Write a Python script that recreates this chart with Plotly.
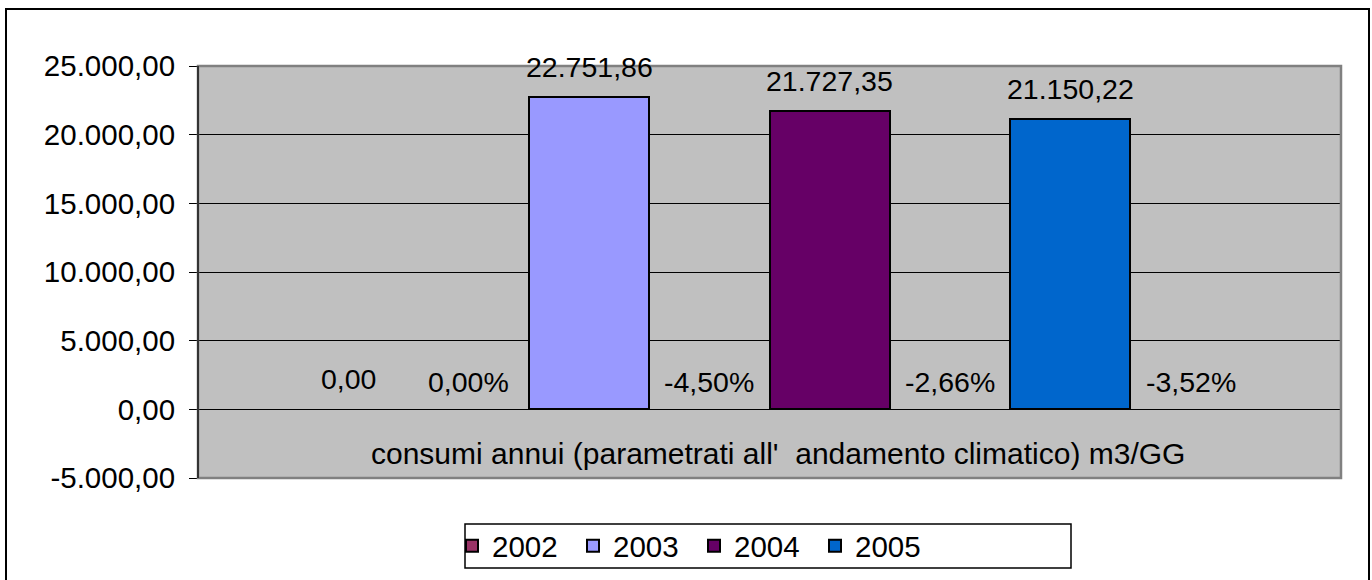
import plotly.graph_objects as go

# ---- data ----
years = ["2002", "2003", "2004", "2005"]
values = [0.0, 22751.86, 21727.35, 21150.22]
pct_change = [0.00, -4.50, -2.66, -3.52]
colors = ["#993366", "#9999FF", "#660066", "#0066CC"]
category = "consumi annui (parametrati all'  andamento climatico) m3/GG"
y_ticks = [-5000, 0, 5000, 10000, 15000, 20000, 25000]

# ---- layout geometry (pixels) ----
W, H = 1372, 580
ML, MR, MT, MB = 198, 31, 66, 102
PW, PH = W - ML - MR, H - MT - MB


def px_x(p):
    return (p - ML) / PW


def px_y(p):
    return (H - MB - p) / PH


FONT = "Liberation Sans, Arial, sans-serif"


def it(v, pct=False):
    s = f"{v:,.2f}".replace(",", "X").replace(".", ",").replace("X", ".")
    return s + ("%" if pct else "")


fig = go.Figure()
for i, (yr, v, c) in enumerate(zip(years, values, colors)):
    fig.add_trace(go.Bar(
        x=[2 * i], y=[v if v != 0 else None], name=yr, width=1,
        marker=dict(color=c, line=dict(color="black", width=2)),
        hoverinfo="skip",
    ))

annotations = []
for i, (v, p) in enumerate(zip(values, pct_change)):
    annotations.append(dict(x=2 * i, y=v, xref="x", yref="y", text=it(v),
                            showarrow=False, yanchor="middle", yshift=30,
                            font=dict(family=FONT, size=28.5, color="black")))
    annotations.append(dict(x=2 * i + 1, y=0, xref="x", yref="y", text=it(p, True),
                            showarrow=False, yanchor="middle", yshift=27,
                            font=dict(family=FONT, size=28.5, color="black")))
annotations.append(dict(x=3.5, y=0, xref="x", yref="y", text=category,
                        showarrow=False, yanchor="middle", yshift=-44, xshift=8,
                        font=dict(family=FONT, size=30, color="black")))

shapes = [
    # plot area border
    dict(type="rect", xref="paper", yref="paper", x0=0, x1=1, y0=0, y1=1,
         line=dict(color="#808080", width=2.5), layer="above"),
    # left axis line
    dict(type="line", xref="paper", yref="paper", x0=0, x1=0, y0=0, y1=1,
         line=dict(color="#333333", width=2), layer="above"),
    # chart outer border
    dict(type="rect", xref="paper", yref="paper",
         x0=px_x(6), x1=px_x(1369), y0=px_y(600), y1=px_y(9),
         line=dict(color="black", width=2)),
    # legend box
    dict(type="rect", xref="paper", yref="paper",
         x0=px_x(465), x1=px_x(1071), y0=px_y(568), y1=px_y(524),
         line=dict(color="black", width=1.5), fillcolor="white", layer="below"),
]

fig.update_layout(
    width=W, height=H,
    margin=dict(l=ML, r=MR, t=MT, b=MB, autoexpand=False),
    paper_bgcolor="white", plot_bgcolor="#C0C0C0",
    separators=",.",
    font=dict(family=FONT, size=29.5, color="black"),
    showlegend=True,
    legend=dict(orientation="h", x=px_x(452), y=px_y(546), xanchor="left", yanchor="middle",
                borderwidth=0, bgcolor="rgba(0,0,0,0)",
                font=dict(family=FONT, size=29.5, color="black"),
                entrywidth=76, entrywidthmode="pixels", traceorder="normal"),
    xaxis=dict(range=[-1.25, 8.25], showticklabels=False, showgrid=False,
               zeroline=False, showline=False, fixedrange=True),
    yaxis=dict(range=[-5000, 25000], tickvals=y_ticks,
               ticktext=[it(t) for t in y_ticks],
               showgrid=True, gridcolor="black", gridwidth=1,
               zeroline=True, zerolinecolor="black", zerolinewidth=1,
               ticks="outside", ticklen=8, tickcolor="black", tickwidth=1,
               ticklabelstandoff=8,
               showline=False, tickfont=dict(family=FONT, size=29.5, color="black")),
    annotations=annotations,
    shapes=shapes,
    bargap=0,
)

fig.write_html("out.html", config={"displayModeBar": False},
               post_script="document.body.style.margin='0px';")
